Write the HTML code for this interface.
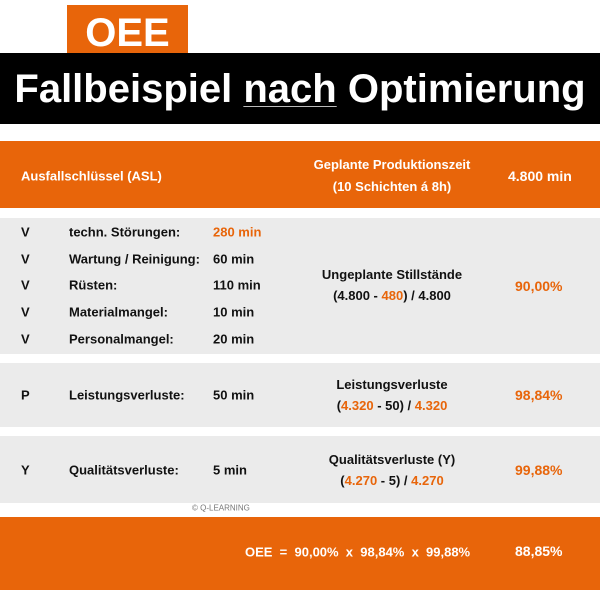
<!DOCTYPE html>
<html><head><meta charset="utf-8"><style>
body{margin:0;width:600px;height:600px;background:#fff;position:relative;overflow:hidden;font-family:"Liberation Sans",sans-serif;font-weight:bold;color:#111}
div{position:absolute}
.t{font-size:13px;white-space:nowrap;transform:translateY(-50%)}
.o{color:#e8650a}
.c{text-align:center}
.g{background:#ebebeb;left:0;width:600px}
</style></head><body>
<div style="left:67px;top:5px;width:121px;height:58px;background:#e8650a"></div>
<div style="left:0;top:53px;width:600px;height:71px;background:#000"></div>
<div style="left:67px;top:8px;width:121px;text-align:center;color:#fff;font-size:40px;line-height:50px">OEE</div>
<div style="left:0;top:64px;width:600px;text-align:center;color:#fff;font-size:40px;line-height:50px;letter-spacing:0px">Fallbeispiel <span style="text-decoration:underline;text-decoration-thickness:1px;text-underline-offset:4px;text-decoration-color:#bbb">nach</span> Optimierung</div>
<div style="left:0;top:141px;width:600px;height:67px;background:#e8650a"></div>
<div class="t" style="left:21px;top:176px;color:#fff">Ausfallschlüssel (ASL)</div>
<div class="t c" style="left:292px;top:176px;width:200px;color:#fff;line-height:22px">Geplante Produktionszeit<br>(10 Schichten á 8h)</div>
<div class="t" style="left:508px;top:176px;color:#fff;font-size:14px">4.800 min</div>
<div class="g" style="top:218px;height:136px"></div>
<div class="g" style="top:363px;height:64px"></div>
<div class="g" style="top:436px;height:67px"></div>
<div class="t" style="left:21px;top:232px">V</div><div class="t" style="left:69px;top:232px">techn. Störungen:</div><div class="t o" style="left:213px;top:232px">280 min</div>
<div class="t" style="left:21px;top:259px">V</div><div class="t" style="left:69px;top:259px">Wartung / Reinigung:</div><div class="t" style="left:213px;top:259px">60 min</div>
<div class="t" style="left:21px;top:285px">V</div><div class="t" style="left:69px;top:285px">Rüsten:</div><div class="t" style="left:213px;top:285px">110 min</div>
<div class="t" style="left:21px;top:312px">V</div><div class="t" style="left:69px;top:312px">Materialmangel:</div><div class="t" style="left:213px;top:312px">10 min</div>
<div class="t" style="left:21px;top:339px">V</div><div class="t" style="left:69px;top:339px">Personalmangel:</div><div class="t" style="left:213px;top:339px">20 min</div>
<div class="t c" style="left:292px;top:285px;width:200px;line-height:21px">Ungeplante Stillstände<br>(4.800 - <span class="o">480</span>) / 4.800</div>
<div class="t o" style="left:515px;top:286px;font-size:14px">90,00%</div>
<div class="t" style="left:21px;top:395px">P</div><div class="t" style="left:69px;top:395px">Leistungsverluste:</div><div class="t" style="left:213px;top:395px">50 min</div>
<div class="t c" style="left:292px;top:395px;width:200px;line-height:21px">Leistungsverluste<br>(<span class="o">4.320</span> - 50) / <span class="o">4.320</span></div>
<div class="t o" style="left:515px;top:395px;font-size:14px">98,84%</div>
<div class="t" style="left:21px;top:470px">Y</div><div class="t" style="left:69px;top:470px">Qualitätsverluste:</div><div class="t" style="left:213px;top:470px">5 min</div>
<div class="t c" style="left:292px;top:470px;width:200px;line-height:21px">Qualitätsverluste (Y)<br>(<span class="o">4.270</span> - 5) / <span class="o">4.270</span></div>
<div class="t o" style="left:515px;top:470px;font-size:14px">99,88%</div>
<div class="t" style="left:192px;top:508px;font-size:8px;font-weight:normal;color:#777">© Q-LEARNING</div>
<div style="left:0;top:517px;width:600px;height:73px;background:#e8650a"></div>
<div class="t" style="left:245px;top:552px;color:#fff">OEE &nbsp;= &nbsp;90,00% &nbsp;x &nbsp;98,84% &nbsp;x &nbsp;99,88%</div>
<div class="t" style="left:515px;top:551px;color:#fff;font-size:14px">88,85%</div>
</body></html>
